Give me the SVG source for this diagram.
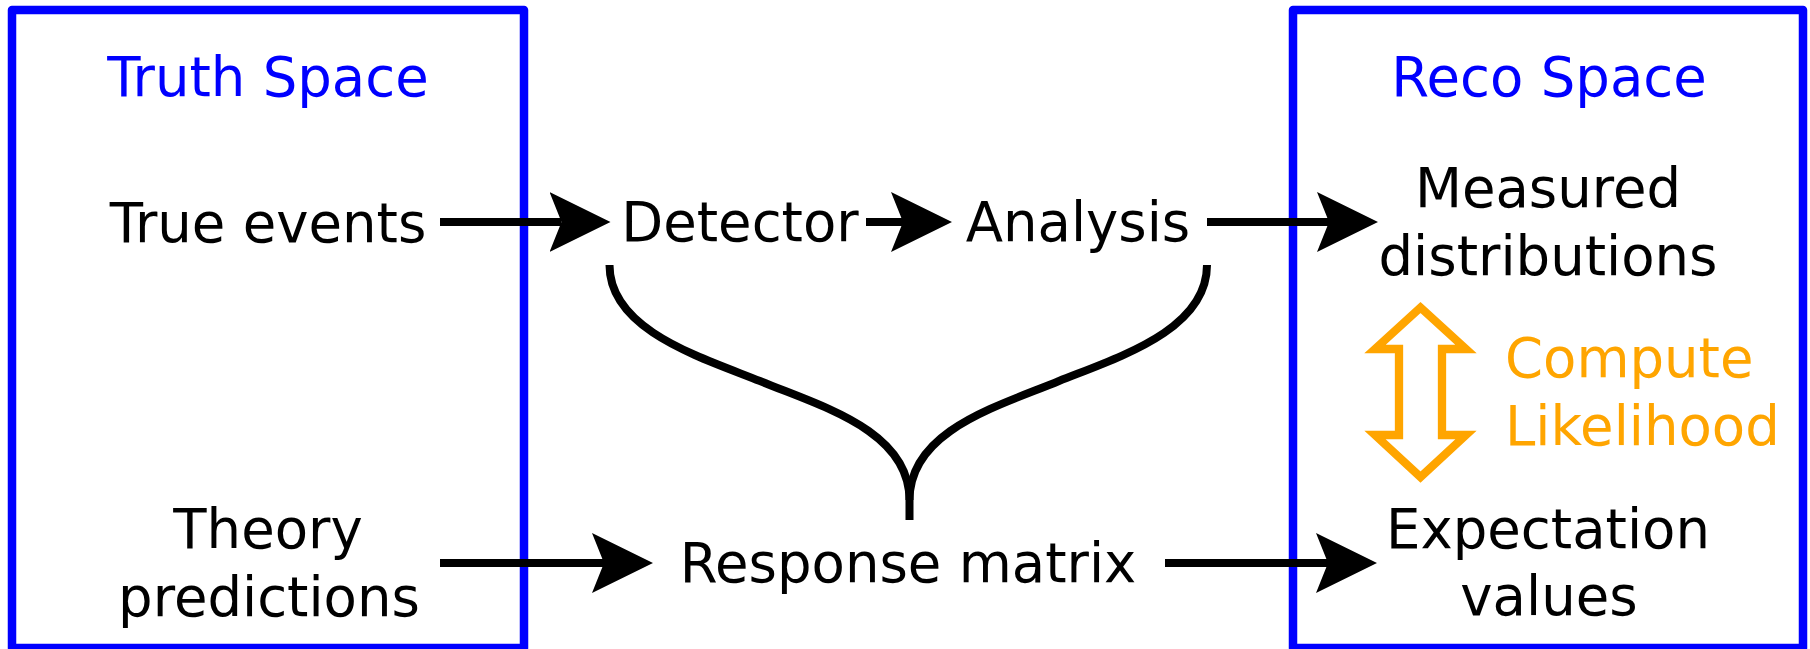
<svg xmlns="http://www.w3.org/2000/svg" width="1810" height="649" viewBox="0 0 1810 649">
<style>
.t{font-family:"DejaVu Sans",sans-serif;font-size:54.5px;fill:#000;text-anchor:middle}
.blue{fill:#0000ff}
.orange{fill:#ffa500;text-anchor:start}
.box{fill:none;stroke:#0000ff;stroke-width:8.5;stroke-linejoin:round}
.conn{fill:none;stroke:#000;stroke-width:8}
</style>
<defs>
<marker id="ah" markerUnits="userSpaceOnUse" markerWidth="62" markerHeight="62" viewBox="0 0 62 62" refX="12" refY="31" orient="auto">
<path d="M0,1 L61,31 L0,61 L12,31 Z" fill="#000"/>
</marker>
</defs>
<rect width="1810" height="649" fill="#fff"/>
<g id="truth-space">
<rect class="box" x="12" y="10" width="512" height="638"/>
<text class="t blue" x="268" y="96">Truth Space</text>
</g>
<g id="reco-space">
<rect class="box" x="1293" y="10" width="510" height="638"/>
<text class="t blue" x="1549" y="96">Reco Space</text>
</g>
<g id="true-events"><text class="t" x="268" y="242">True events</text></g>
<g id="detector"><text class="t" x="740" y="241">Detector</text></g>
<g id="analysis"><text class="t" x="1078" y="241">Analysis</text></g>
<g id="measured"><text class="t" x="1548" y="207">Measured</text><text class="t" x="1548" y="275">distributions</text></g>
<g id="theory"><text class="t" x="268" y="548">Theory</text><text class="t" x="269" y="616">predictions</text></g>
<g id="response"><text class="t" x="908" y="582">Response matrix</text></g>
<g id="expectation"><text class="t" x="1548" y="548">Expectation</text><text class="t" x="1549" y="615">values</text></g>
<g id="likelihood">
<path d="M1420.5,307.5 L1466,349 L1442,349 L1442,435 L1466,435 L1420.5,477 L1375,435 L1399,435 L1399,349 L1375,349 Z" fill="none" stroke="#ffa500" stroke-width="8.3" stroke-linejoin="miter"/>
<text class="t orange" x="1505" y="377">Compute</text>
<text class="t orange" x="1505" y="445">Likelihood</text>
</g>
<g id="connectors">
<line class="conn" x1="440" y1="222" x2="561.5" y2="222" marker-end="url(#ah)"/>
<line class="conn" x1="866" y1="222" x2="903" y2="222" marker-end="url(#ah)"/>
<line class="conn" x1="1207" y1="222" x2="1329" y2="222" marker-end="url(#ah)"/>
<line class="conn" x1="440" y1="563" x2="604" y2="563" marker-end="url(#ah)"/>
<line class="conn" x1="1165" y1="563" x2="1328" y2="563" marker-end="url(#ah)"/>
<path class="conn" d="M609.5,265 C609.5,330 700,357 760,381 C820,406 909.5,430 909.5,500 L909.5,520"/>
<path class="conn" d="M1207,265 C1207,330 1119,357 1059,381 C999,406 909.5,430 909.5,500"/>
</g>
</svg>
